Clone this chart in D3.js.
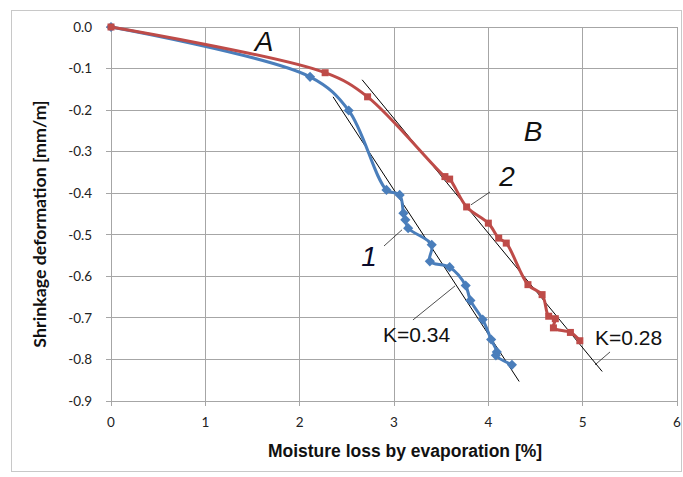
<!DOCTYPE html>
<html><head><meta charset="utf-8">
<script src="https://cdn.jsdelivr.net/npm/d3@7"></script>
<style>html,body{margin:0;padding:0;background:#fff;}svg{display:block;}</style>
</head><body>
<svg id="chart" width="683" height="477"></svg>
<script>
// ---- data ----
const xTicks = [0, 1, 2, 3, 4, 5, 6];
const yTicks = [0, -0.1, -0.2, -0.3, -0.4, -0.5, -0.6, -0.7, -0.8, -0.9];
const series1X = [0, 2.11, 2.52, 2.92, 3.06, 3.10, 3.12, 3.15, 3.40, 3.38, 3.59, 3.76, 3.81, 3.94, 4.03, 4.09, 4.08, 4.25];
const series1Y = [0, -0.120, -0.201, -0.392, -0.404, -0.448, -0.464, -0.484, -0.524, -0.564, -0.578, -0.622, -0.658, -0.704, -0.752, -0.782, -0.790, -0.813];
const series2X = [0, 2.27, 2.72, 3.54, 3.59, 3.77, 4.00, 4.11, 4.19, 4.42, 4.57, 4.64, 4.71, 4.69, 4.87, 4.97];
const series2Y = [0, -0.110, -0.168, -0.360, -0.366, -0.433, -0.472, -0.508, -0.520, -0.620, -0.644, -0.696, -0.702, -0.724, -0.735, -0.755];
const trend1X = [2.354, 4.327];
const trend1Y = [-0.168, -0.853];
const trend2X = [2.662, 5.207];
const trend2Y = [-0.127, -0.829];
const xTitle = "Moisture loss by evaporation [%]";
const yTitle = "Shrinkage deformation [mm/m]";
const labels = ["A", "B", "1", "2", "K=0.34", "K=0.28"];

// ---- layout ----
const svg = d3.select("#chart");
const L = 111, R = 677, T = 27, B = 401;
const x = d3.scaleLinear().domain([0, 6]).range([L, R]);
const y = d3.scaleLinear().domain([-0.9, 0]).range([B, T]);

// chart border
svg.append("rect").attr("x", 11.5).attr("y", 10.5).attr("width", 670).attr("height", 461)
  .attr("fill", "#fff").attr("stroke", "#c8c8c8").attr("stroke-width", 1);

// gridlines
const grid = svg.append("g").attr("stroke", "#a6a6a6").attr("stroke-width", 1).attr("shape-rendering", "crispEdges");
xTicks.forEach(t => grid.append("line").attr("x1", x(t)).attr("x2", x(t)).attr("y1", T).attr("y2", B + 5));
yTicks.forEach(t => grid.append("line").attr("x1", L - 5).attr("x2", R).attr("y1", y(t)).attr("y2", y(t)));

// tick labels
const tickFont = "Lato, 'Open Sans', sans-serif";
svg.append("g").selectAll("text").data(yTicks).join("text")
  .attr("x", 92).attr("y", d => y(d)).attr("dy", "0.35em")
  .attr("text-anchor", "end").attr("font-family", tickFont).attr("font-size", 13.5).attr("fill", "#222")
  .text(d => d3.format(".1f")(d).replace("−", "-"));
svg.append("g").selectAll("text").data(xTicks).join("text")
  .attr("x", d => x(d)).attr("y", 427)
  .attr("text-anchor", "middle").attr("font-family", tickFont).attr("font-size", 13.5).attr("fill", "#222")
  .text(d => d);

// axis titles
svg.append("text").attr("x", 405).attr("y", 457).attr("text-anchor", "middle")
  .attr("font-family", "'Liberation Sans', Arial, sans-serif").attr("font-weight", "bold").attr("font-size", 17.5)
  .attr("fill", "#111").text(xTitle);
svg.append("text").attr("transform", `translate(46,224) rotate(-90)`).attr("text-anchor", "middle")
  .attr("font-family", tickFont).attr("font-weight", "bold").attr("font-size", 17.8)
  .attr("fill", "#111").text(yTitle);

// trend lines
const tl = d3.line().x(d => x(d[0])).y(d => y(d[1]));
svg.append("path").attr("d", tl(d3.zip(trend1X, trend1Y))).attr("stroke", "#000").attr("stroke-width", 1).attr("fill", "none");
svg.append("path").attr("d", tl(d3.zip(trend2X, trend2Y))).attr("stroke", "#000").attr("stroke-width", 1).attr("fill", "none");

// series
const curve = d3.line().x(d => x(d[0])).y(d => y(d[1])).curve(d3.curveCatmullRom.alpha(0.5));
const s1 = d3.zip(series1X, series1Y), s2 = d3.zip(series2X, series2Y);
const blue = "#4a7ebb", red = "#be4b48";
svg.append("path").attr("d", curve(s1)).attr("stroke", blue).attr("stroke-width", 3).attr("fill", "none").attr("stroke-linejoin", "round");
svg.append("g").selectAll("path").data(s1).join("path")
  .attr("transform", d => `translate(${x(d[0])},${y(d[1])}) rotate(45)`)
  .attr("d", "M-3.6,-3.6H3.6V3.6H-3.6Z").attr("fill", blue);
svg.append("path").attr("d", curve(s2)).attr("stroke", red).attr("stroke-width", 3).attr("fill", "none").attr("stroke-linejoin", "round");
svg.append("g").selectAll("rect").data(s2).join("rect")
  .attr("x", d => x(d[0]) - 3.5).attr("y", d => y(d[1]) - 3.5).attr("width", 7).attr("height", 7).attr("fill", red);

// leader lines (data coordinates)
const leaders = [
  [[2.894, -0.527], [3.085, -0.488]],
  [[3.201, -0.705], [3.647, -0.623]],
  [[3.816, -0.428], [4.018, -0.397]],
  [[5.131, -0.813], [5.290, -0.782]]
];
leaders.forEach(l => svg.append("path").attr("d", tl(l)).attr("stroke", "#222").attr("stroke-width", 0.8).attr("fill", "none"));

// annotation labels
const annFont = "'Liberation Sans', Arial, sans-serif";
const ann = [
  {t: labels[0], p: [1.622, -0.058], a: "middle", it: true, s: 28},
  {t: labels[1], p: [4.474, -0.274], a: "middle", it: true, s: 28},
  {t: labels[2], p: [2.735, -0.575], a: "middle", it: true, s: 28},
  {t: labels[3], p: [4.198, -0.383], a: "middle", it: true, s: 28},
  {t: labels[4], p: [2.883, -0.758], a: "start", it: false, s: 21},
  {t: labels[5], p: [5.131, -0.765], a: "start", it: false, s: 21}
];
ann.forEach(d => svg.append("text").attr("x", x(d.p[0])).attr("y", y(d.p[1]))
  .attr("text-anchor", d.a).attr("font-family", annFont).attr("font-size", d.s)
  .attr("font-style", d.it ? "italic" : "normal").attr("fill", d.t === "1" ? "#0a0a2a" : "#111").text(d.t));
</script>
</body></html>
